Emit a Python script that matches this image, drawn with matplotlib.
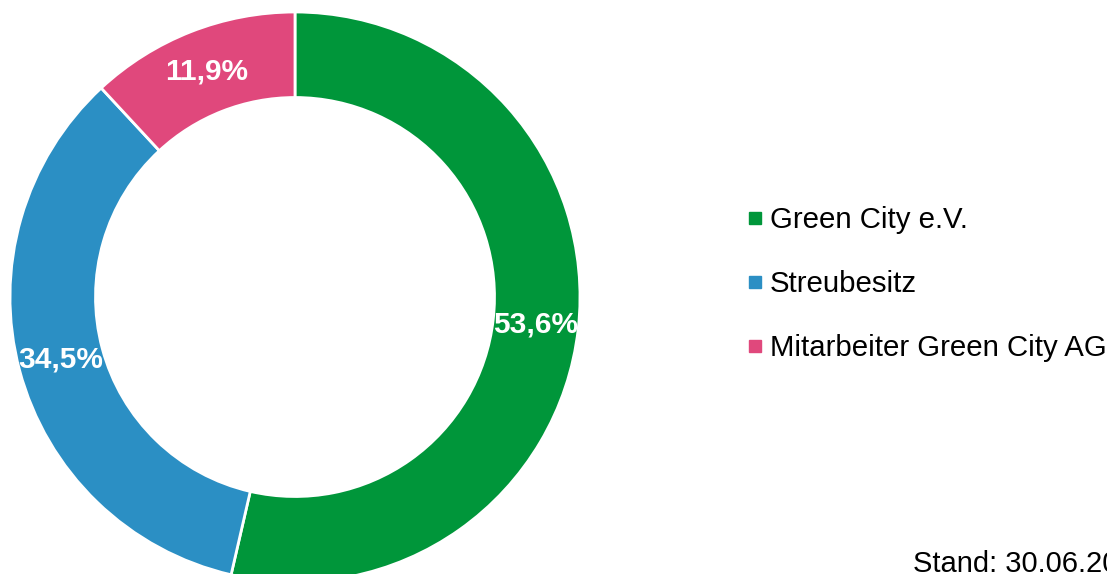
import matplotlib
matplotlib.use("Agg")
import matplotlib.pyplot as plt
from matplotlib.lines import Line2D

categories = ["Green City e.V.", "Streubesitz", "Mitarbeiter Green City AG"]
values = [53.6, 34.5, 11.9]
colors = ["#00963a", "#2b8fc4", "#e0487c"]
note = "Stand: 30.06.2021"

plt.rcParams['font.family'] = ['Liberation Sans', 'DejaVu Sans']

W, H = 1107, 574
fig = plt.figure(figsize=(W / 100, H / 100), dpi=100)

cx, cy, r = 295, 297, 285
ax = fig.add_axes([(cx - r) / W, (H - cy - r) / H, 2 * r / W, 2 * r / H])

wedges, texts, autotexts = ax.pie(
    values, colors=colors, startangle=90, counterclock=False, radius=1,
    wedgeprops=dict(width=0.30, edgecolor='white', linewidth=2),
    autopct=lambda p: f"{p:.1f}%".replace('.', ','), pctdistance=0.85,
    textprops=dict(color='white', fontsize=21.5, fontweight='bold'))
ax.set_xlim(-1, 1)
ax.set_ylim(-1, 1)
ax.set_aspect('equal')
ax.axis('off')

handles = [Line2D([0], [0], marker='s', linestyle='none', markersize=8,
                  markerfacecolor=c, markeredgecolor=c) for c in colors]
fig.legend(handles, categories, loc='center left',
           bbox_to_anchor=(746 / W, (H - 284) / H), frameon=False,
           fontsize=21.2, handlelength=0.6, handletextpad=0.2,
           labelspacing=1.22, borderpad=0, borderaxespad=0)

fig.text(913 / W, (H - 572) / H, note, fontsize=21, ha='left', va='baseline')

fig.savefig("out.png", dpi=100)
